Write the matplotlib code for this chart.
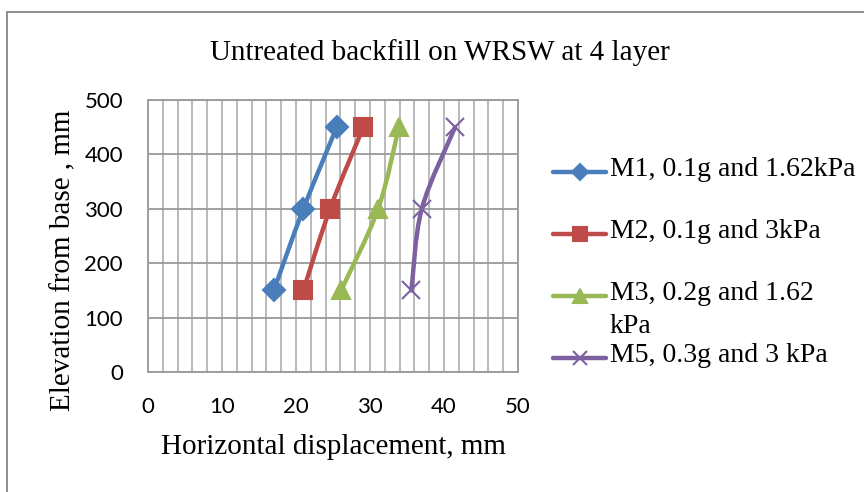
import matplotlib
matplotlib.use("Agg")
import matplotlib.pyplot as plt
import numpy as np
from matplotlib.path import Path
from matplotlib.patches import PathPatch, Rectangle
from matplotlib.lines import Line2D

# elevation of the gauges (mm) and horizontal displacement for each model (mm)
elevation = [150, 300, 450]
m1 = [17.0, 21.0, 25.5]
m2 = [21.0, 24.6, 29.1]
m3 = [26.1, 31.1, 33.9]
m5 = [35.6, 37.0, 41.5]

labels = ["M1, 0.1g and 1.62kPa", "M2, 0.1g and 3kPa",
          "M3, 0.2g and 1.62\nkPa", "M5, 0.3g and 3 kPa"]
colors = ["#4A7EBB", "#BE4B48", "#98B954", "#7D60A0"]
markers = ["D", "s", "^", "x"]
msizes = [11, 13, 13, 13]

serif = "Liberation Serif"


def smooth_path(xs, ys, ax):
    # Catmull-Rom style bezier through the points, done in pixel space
    pts = ax.transData.transform(np.column_stack([xs, ys]))
    n = len(pts)
    verts = [pts[0]]
    codes = [Path.MOVETO]
    for i in range(n - 1):
        p0 = pts[i - 1] if i > 0 else pts[i]
        p1 = pts[i]
        p2 = pts[i + 1]
        p3 = pts[i + 2] if i + 2 < n else pts[i + 1]
        c1 = p1 + (p2 - p0) / 6.0
        c2 = p2 - (p3 - p1) / 6.0
        verts += [c1, c2, p2]
        codes += [Path.CURVE4] * 3
    verts = ax.transData.inverted().transform(np.array(verts))
    return Path(verts, codes)


fig = plt.figure(figsize=(8.64, 4.92), dpi=100)
ax = fig.add_axes([148 / 864, 1 - 372 / 492, 370 / 864, 272 / 492])

ax.set_xlim(0, 50)
ax.set_ylim(0, 500)
ax.set_xticks(range(0, 51, 10))
ax.set_yticks(range(0, 501, 100))
ax.set_xticks(range(0, 51, 2), minor=True)
ax.tick_params(which="both", length=0)
ax.tick_params(axis="x", pad=18)
ax.tick_params(axis="y", pad=18)
for lab in ax.get_xticklabels() + ax.get_yticklabels():
    lab.set_fontfamily("Lato")
    lab.set_fontsize(16)
ax.grid(True, which="both", axis="x", color="#b4b4b4", lw=1.3)
ax.grid(True, which="major", axis="y", color="#9a9a9a", lw=1.3)
ax.set_axisbelow(True)
for s in ax.spines.values():
    s.set_color("#9a9a9a")
    s.set_linewidth(1.3)

fig.canvas.draw()
for xs, c, m, ms in zip([m1, m2, m3, m5], colors, markers, msizes):
    ax.add_patch(PathPatch(smooth_path(xs, elevation, ax), fill=False,
                           edgecolor=c, lw=3.2, capstyle="round", zorder=3))
    ax.plot(xs, elevation, ls="none", marker=m, ms=ms, color=c,
            mec=c, mew=1.5, zorder=4)

ax.set_xlabel("Horizontal displacement, mm", fontfamily=serif, fontsize=21,
              labelpad=12)
ax.set_ylabel("Elevation from base , mm", fontfamily=serif, fontsize=21,
              labelpad=6)
ax.yaxis.label.set_y(0.41)
fig.text(440 / 864, 1 - 53 / 492, "Untreated backfill on WRSW at 4 layer",
         fontfamily=serif, fontsize=21, ha="center", va="center")

# legend drawn by hand so the wrapped label keeps its marker on the first line
leg_y = [172, 234, 296, 358]
for lab, c, m, ms, yp in zip(labels, colors, markers, msizes, leg_y):
    yf = 1 - yp / 492
    fig.add_artist(Line2D([553 / 864, 606 / 864], [yf, yf], color=c, lw=3.2,
                          solid_capstyle="round", transform=fig.transFigure))
    fig.add_artist(Line2D([580 / 864], [yf], marker=m, ms=ms * 0.75, color=c,
                          mec=c, mew=1.5, transform=fig.transFigure))
    fig.text(610 / 864, 1 - (yp - 15) / 492, lab, fontfamily=serif,
             fontsize=20, va="top", ha="left", linespacing=1.4)

# chart frame
fig.add_artist(Rectangle((7 / 864, -0.1), 1.0, 1.1 - 12 / 492, fill=False,
                         edgecolor="#868686", lw=1.3,
                         transform=fig.transFigure))

fig.savefig("out.png", dpi=100)
